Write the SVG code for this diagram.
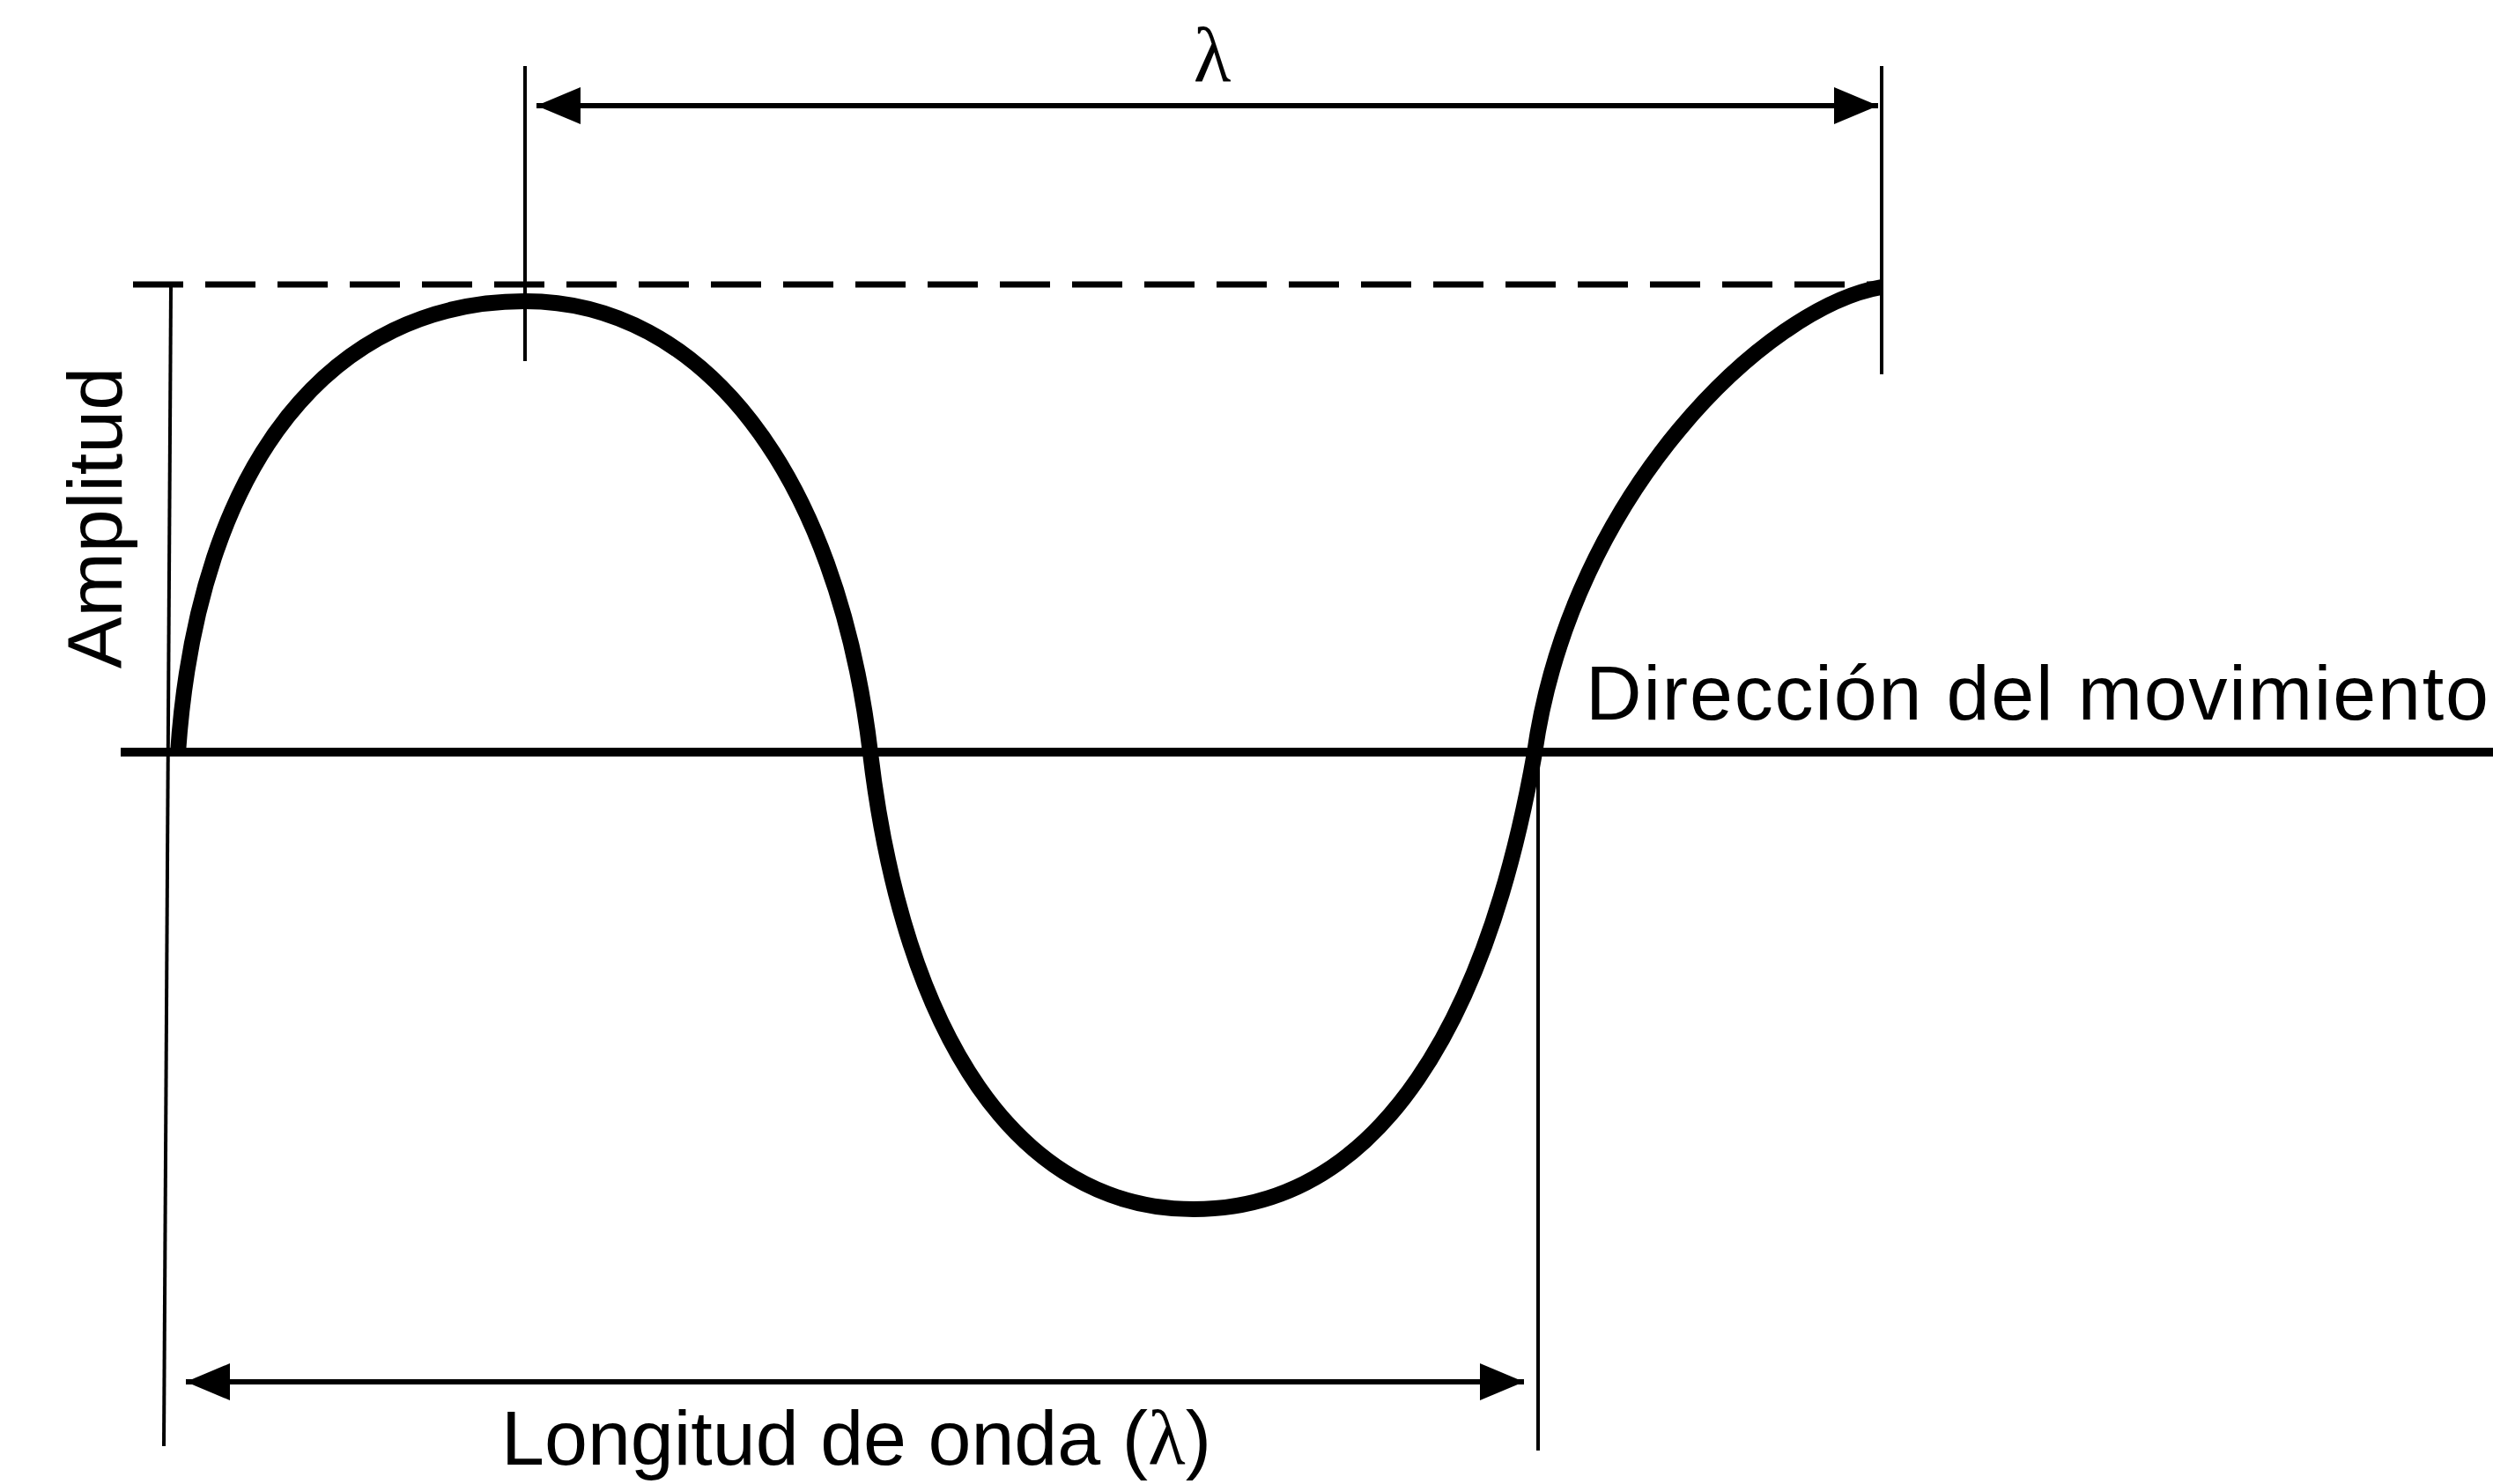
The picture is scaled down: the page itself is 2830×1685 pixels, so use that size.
<svg xmlns="http://www.w3.org/2000/svg" width="2830" height="1685" viewBox="0 0 2830 1685">
  <style>
    .thin { stroke: #000; stroke-width: 4; fill: none; }
    .dim { stroke: #000; stroke-width: 6; fill: none; }
    .lbl { font-family: "Liberation Sans", Arial, sans-serif; font-size: 88px; fill: #000; }
    .greek { font-family: "Liberation Serif", "Times New Roman", serif; }
  </style>
  <defs>
    <marker id="arrow" markerUnits="userSpaceOnUse" markerWidth="54" markerHeight="46" refX="50" refY="22" orient="auto-start-reverse">
      <path d="M0,1 L50,22 L0,43 Z" fill="#000"/>
    </marker>
  </defs>
  <rect width="2830" height="1685" fill="#fff"/>

  <g id="guides">
    <line id="amplitude-line" class="thin" x1="194" y1="326" x2="186" y2="1642"/>
    <line id="crest-tick" class="thin" x1="596" y1="75" x2="596" y2="410"/>
    <line id="end-tick" class="thin" x1="2136" y1="75" x2="2136" y2="425"/>
    <line id="trough-end-tick" class="thin" x1="1746" y1="852" x2="1746" y2="1647"/>
    <line id="amplitude-dashed" x1="151" y1="323" x2="2132" y2="323" stroke="#000" stroke-width="7" stroke-dasharray="57 25"/>
  </g>

  <g id="axis">
    <line x1="137" y1="854" x2="2830" y2="854" stroke="#000" stroke-width="10"/>
  </g>

  <g id="wave">
    <path d="M202,855 C225,520 380,342 596,342 C796,342 950,535 988,855 C1026,1175 1155,1373 1355,1373 C1570,1373 1690,1150 1742,855 C1784,560 2006,348 2136,326" fill="none" stroke="#000" stroke-width="18"/>
  </g>

  <g id="connectors">
    <line id="lambda-top-arrow" class="dim" x1="609" y1="120" x2="2132" y2="120" marker-start="url(#arrow)" marker-end="url(#arrow)"/>
    <line id="lambda-bottom-arrow" class="dim" x1="211" y1="1569" x2="1730" y2="1569" marker-start="url(#arrow)" marker-end="url(#arrow)"/>
  </g>

  <g id="label-lambda-top">
    <text class="lbl greek" x="1376" y="93" text-anchor="middle">λ</text>
  </g>
  <g id="label-amplitud">
    <text class="lbl" transform="translate(138,588) rotate(-90)" text-anchor="middle">Amplitud</text>
  </g>
  <g id="label-direccion">
    <text class="lbl" x="1800" y="817" font-size="90" textLength="1025" lengthAdjust="spacing">Dirección del movimiento</text>
  </g>
  <g id="label-longitud">
    <text class="lbl" x="972" y="1663" font-size="86" text-anchor="middle">Longitud de onda (<tspan class="greek">λ</tspan>)</text>
  </g>
</svg>
